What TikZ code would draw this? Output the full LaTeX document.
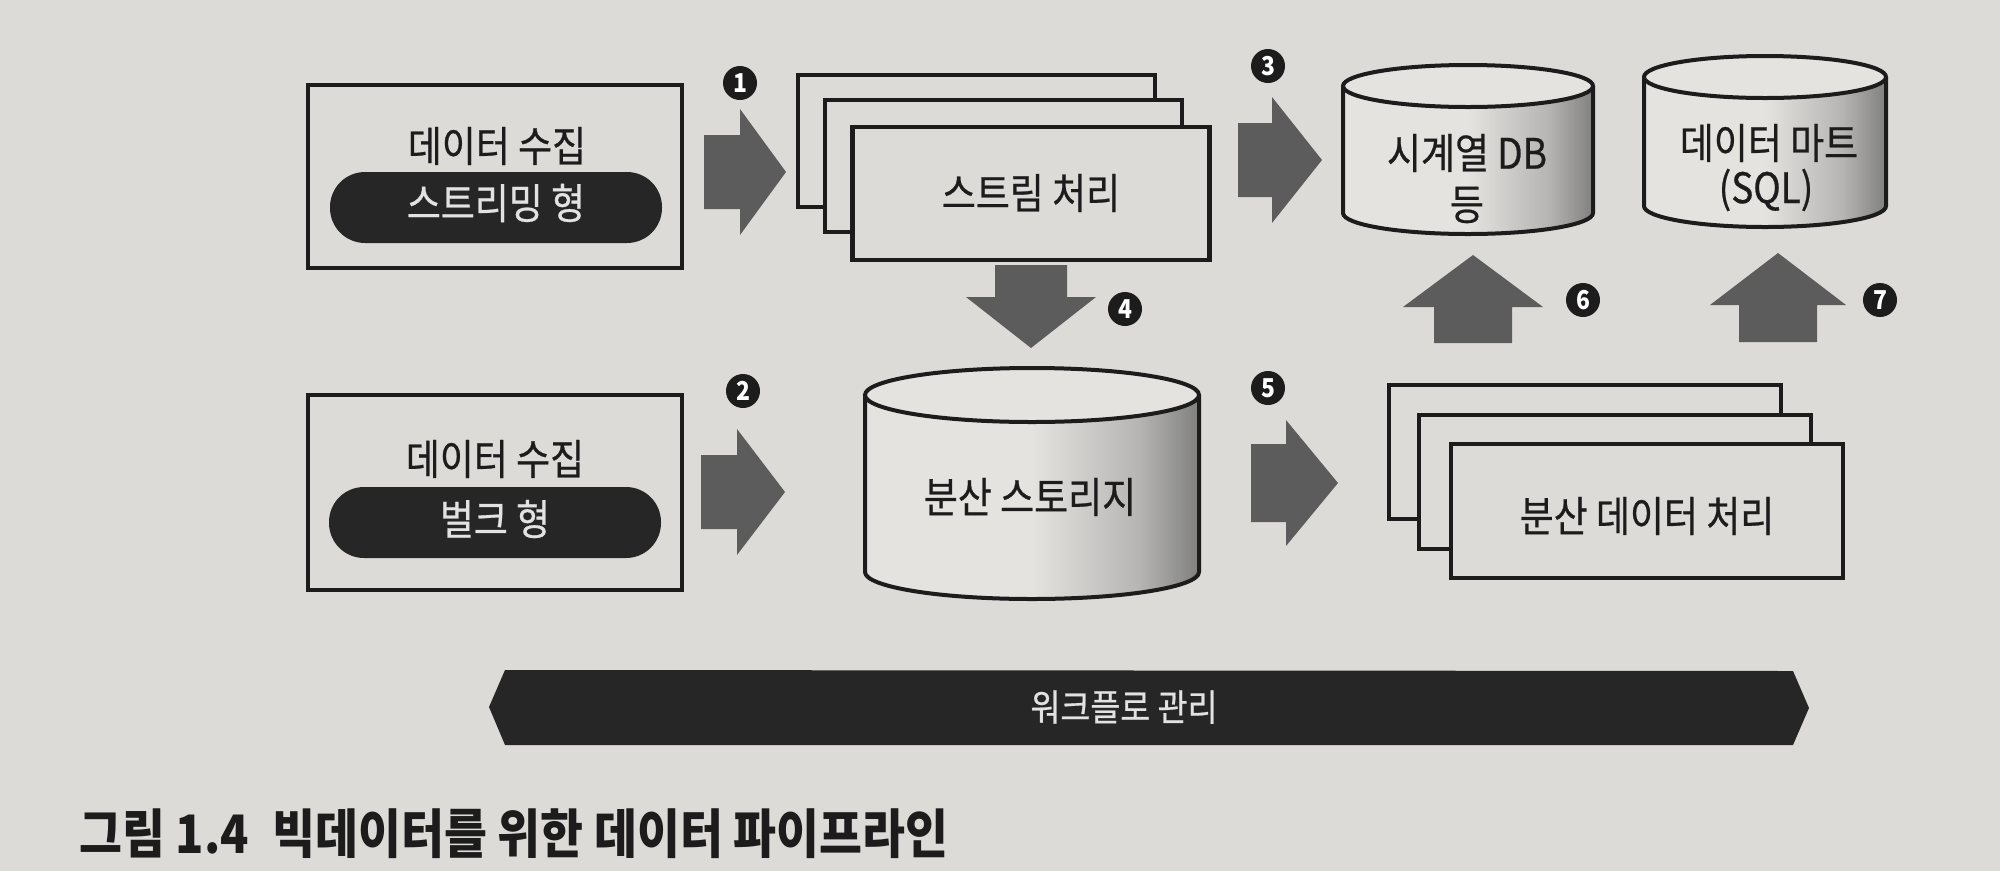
\documentclass[tikz,border=0pt]{standalone}
\usepackage{fontspec}
\newfontfamily\kr[FakeStretch=0.88]{Noto Sans CJK KR}
\newfontfamily\krm[FakeStretch=0.88,FakeBold=0.6]{Noto Sans CJK KR}
\definecolor{paper}{RGB}{221,219,215}
\definecolor{ink}{RGB}{28,28,28}
\definecolor{arrowgray}{RGB}{92,92,92}
\definecolor{pillfill}{RGB}{38,38,38}
\definecolor{pilltext}{RGB}{226,226,226}
\definecolor{cylA}{RGB}{228,227,224}
\definecolor{cylB}{RGB}{182,181,179}
\definecolor{cylC}{RGB}{128,128,127}
\pgfdeclarehorizontalshading{cylshade}{100bp}{color(0bp)=(cylA); color(25bp)=(cylA); color(50bp)=(cylA); color(66bp)=(cylB); color(75bp)=(cylC); color(100bp)=(cylC)}
\newcommand\dbcyl[5]{%
  \path[shading=cylshade] ({#1-#2},#3) -- ({#1-#2},#4) arc[start angle=180,end angle=360,x radius=#2pt,y radius=#5pt] -- ({#1+#2},#3) arc[start angle=0,end angle=-180,x radius=#2pt,y radius=#5pt] -- cycle;
  \draw[cylline] ({#1-#2},#3) -- ({#1-#2},#4) arc[start angle=180,end angle=360,x radius=#2pt,y radius=#5pt] -- ({#1+#2},#3);
  \draw[cylline,fill=cylA] (#1,#3) ellipse[x radius=#2pt,y radius=#5pt];
}
\tikzset{
  box/.style={draw=ink,line width=4.5pt,fill=paper,inner sep=0},
  stackbox/.style={draw=ink,line width=4.5pt,fill=paper,inner sep=0,minimum width=357,minimum height=132},
  stackboxb/.style={draw=ink,line width=4.5pt,fill=paper,inner sep=0,minimum width=392,minimum height=134},
  pill/.style={fill=pillfill,rounded corners=35pt,inner sep=0,minimum width=332,minimum height=71},
  txt/.style={font=\krm\fontsize{42}{50}\selectfont,text=ink,inner sep=0},
  wtxt/.style={txt,text=pilltext},
  blk/.style={fill=arrowgray},
  num/.style={circle,fill=ink,text=white,minimum size=34,inner sep=0,font=\kr\bfseries\fontsize{26}{26}\selectfont},
  cylline/.style={draw=ink,line width=4pt},
}
\begin{document}
\begin{tikzpicture}[x=1pt,y=-1pt]
\useasboundingbox (0,0) rectangle (2000,871);
\fill[paper] (0,0) rectangle (2000,871);

% --- collection boxes
\node[box,minimum width=374,minimum height=183] (col1) at (495,176.5) {};
\node[pill] (p1) at (496,207.5) {};
\node[txt] (t1a) at (497,146) {데이터 수집};
\node[wtxt] (t1b) at (496,203) {스트리밍 형};

\node[box,minimum width=374,minimum height=195] (col2) at (495,492.5) {};
\node[pill] (p2) at (495,522.5) {};
\node[txt] (t2a) at (495,459) {데이터 수집};
\node[wtxt] (t2b) at (495,519) {벌크 형};

% --- stream processing stack
\node[stackbox] (s1) at (976.5,141) {};
\node[stackbox] (s2) at (1003.5,166) {};
\node[stackbox,minimum height=133] (s3) at (1031,193.5) {};
\node[txt] (st) at (1031,193) {스트림 처리};

% --- distributed processing stack
\node[stackboxb] (d1) at (1585,452) {};
\node[stackboxb] (d2) at (1615,482) {};
\node[stackboxb] (d3) at (1647,511) {};
\node[txt] (dt) at (1647,516) {분산 데이터 처리};

% --- cylinders
\dbcyl{1468}{125}{86}{213}{21}
\node[txt] (tsa) at (1467,153) {시계열 DB};
\node[txt] (tsb) at (1467,205) {등};

\dbcyl{1765}{121}{77}{206}{21}
\node[txt] (dma) at (1769,143) {데이터 마트};
\node[txt] (dmb) at (1766,190) {(SQL)};

\dbcyl{1032}{167}{395}{572}{27}
\node[txt] (stor) at (1030,497) {분산 스토리지};

% --- block arrows
\fill[blk] (704,135) -- (740,135) -- (740,109) -- (786,172) -- (740,235) -- (740,209) -- (704,209) -- cycle;
\fill[blk] (701,455) -- (737,455) -- (737,429) -- (785,492) -- (737,555) -- (737,529) -- (701,529) -- cycle;
\fill[blk] (1238,123) -- (1272,123) -- (1272,97) -- (1322,160) -- (1272,223) -- (1272,197) -- (1238,197) -- cycle;
\fill[blk] (1251,444) -- (1286,444) -- (1286,420) -- (1338,483) -- (1286,546) -- (1286,522) -- (1251,522) -- cycle;
\fill[blk] (995,265) -- (1067,265) -- (1067,297) -- (1096,297) -- (1031,348) -- (966,297) -- (995,297) -- cycle;
\fill[blk] (1434,343) -- (1512,343) -- (1512,307) -- (1543,307) -- (1473,255) -- (1403,307) -- (1434,307) -- cycle;
\fill[blk] (1739,342) -- (1817,342) -- (1817,305) -- (1846,305) -- (1778,253) -- (1710,305) -- (1739,305) -- cycle;

% --- numbers
\node[num] (n1) at (740,83) {1};
\node[num] (n2) at (743,391) {2};
\node[num] (n3) at (1268,66) {3};
\node[num] (n4) at (1125,309) {4};
\node[num] (n5) at (1268,388) {5};
\node[num] (n6) at (1583,300) {6};
\node[num] (n7) at (1880,300) {7};

% --- workflow bar
\fill[pillfill] (489,707) -- (505,670) -- (1793,671) -- (1809,708) -- (1793,745) -- (505,745) -- cycle;
\node[wtxt,font=\krm\fontsize{37}{44}\selectfont] (wf) at (1124,707) {워크플로 관리};

% --- caption
\node[anchor=west,inner sep=0,text=ink,font=\kr\bfseries\fontsize{53}{62}\selectfont] (cap) at (79,834) {그림 1.4\hspace{0.45em}빅데이터를 위한 데이터 파이프라인};
\end{tikzpicture}
\end{document}
